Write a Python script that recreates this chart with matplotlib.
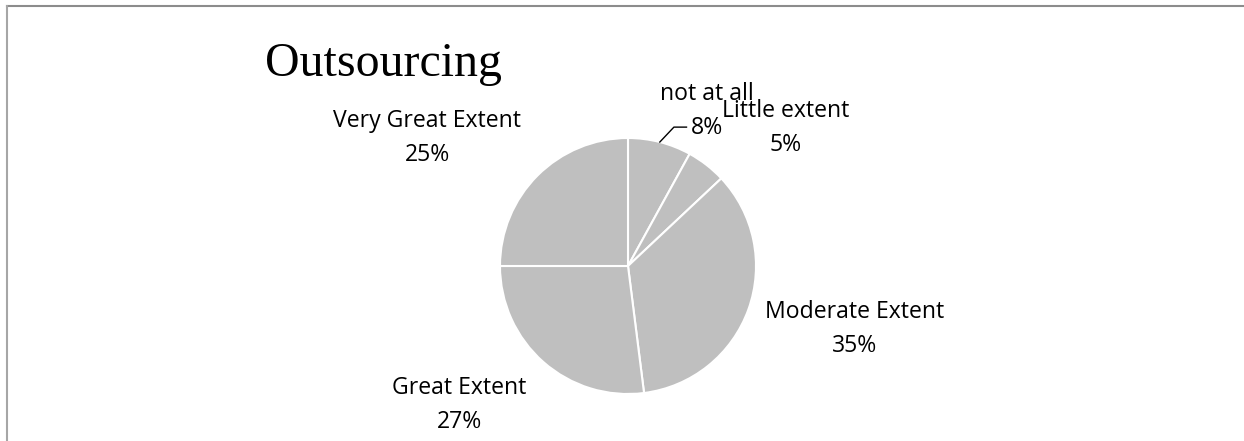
import numpy as np
import matplotlib
matplotlib.use("Agg")
import matplotlib.pyplot as plt
from matplotlib.lines import Line2D

title = "Outsourcing"
categories = ["not at all", "Little extent", "Moderate Extent", "Great Extent", "Very Great Extent"]
values = [8, 5, 35, 27, 25]

# label layout (data units, pie radius = 1): centre x, baseline y of the name line
label_pos = [(0.617, 1.297), (1.234, 1.164), (1.773, -0.406), (-1.320, -1.000), (-1.570, 1.086)]
line_gap = 0.262

W, H, DPI = 12.44, 4.41, 100
fig = plt.figure(figsize=(W, H), dpi=DPI)
fig.patch.set_facecolor("white")
ax = fig.add_axes([0, 0, 1, 1])
R_PX = 128.0
cx, cy = 628.0, 266.0

wedges, _ = ax.pie(values, startangle=90, counterclock=False, radius=1.0,
                   colors=["#bfbfbf"] * len(values),
                   wedgeprops=dict(edgecolor="white", linewidth=1.5))
ax.set_xlim(-cx / R_PX, (W * DPI - cx) / R_PX)
ax.set_ylim(-(H * DPI - cy) / R_PX, cy / R_PX)
ax.set_aspect("equal")
ax.axis("off")

lab_font = dict(family="Open Sans", fontsize=16.6, color="#000000")
for name, v, (lx, ly) in zip(categories, values, label_pos):
    ax.text(lx, ly, name, ha="center", va="baseline", **lab_font)
    ax.text(lx, ly - line_gap, f"{v}%", ha="center", va="baseline", **lab_font)

# leader line for the first slice
w0 = wedges[0]
mid = np.deg2rad((w0.theta1 + w0.theta2) / 2)
px, py = np.cos(mid), np.sin(mid)
lx, ly = label_pos[0]
ax.plot([px, px + 0.11, lx - 0.16], [py, ly - line_gap + 0.05, ly - line_gap + 0.05],
        color="black", linewidth=1.0)

ax.text(-2.836, 1.484, title, ha="left", va="baseline",
        family="Liberation Serif", fontsize=34.5, color="black")

# chart border (top and left visible)
fig.add_artist(Line2D([7 / (W * DPI), 1], [1 - 6 / (H * DPI), 1 - 6 / (H * DPI)],
                      transform=fig.transFigure, color="#8c8c8c", linewidth=1.5))
fig.add_artist(Line2D([7 / (W * DPI), 7 / (W * DPI)], [0, 1 - 6 / (H * DPI)],
                      transform=fig.transFigure, color="#a6a6a6", linewidth=1.5))

fig.savefig("out.png", dpi=DPI)
